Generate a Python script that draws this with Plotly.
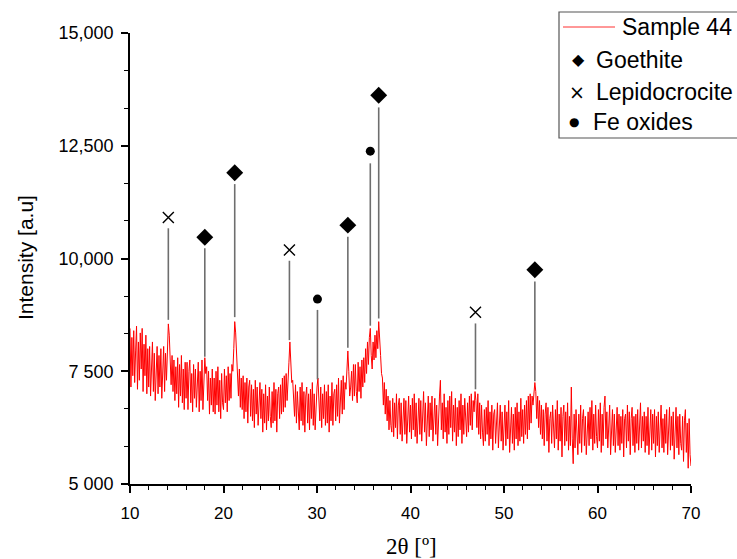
import plotly.graph_objects as go

# ---------------- data ----------------
two_theta_start = 10.0
two_theta_step = 0.1
intensity = [
    8450, 7150, 8250, 7400, 8400, 7250, 7950, 8500, 7100, 8150,   # 10
    7300, 8350, 7550, 8450, 7050, 8100, 7400, 8300, 7000, 8000,   # 11
    7150, 8050, 6950, 7850, 8150, 7050, 7900, 6850, 7750, 8050,   # 12
    7000, 7850, 7150, 8000, 6900, 7700, 8050, 7050, 7900, 7300,   # 13
    7950, 8550, 8300, 7750, 7200, 7850, 7050, 7750, 6850, 7600,   # 14
    7000, 7800, 6700, 7650, 6950, 7850, 6800, 7550, 6650, 7700,   # 15
    6900, 7700, 6650, 7500, 7750, 6800, 7450, 6600, 7650, 6900,   # 16
    7550, 6700, 7400, 7700, 6600, 7500, 6850, 7750, 6650, 7450,   # 17
    7800, 7450, 7600, 6850, 7500, 6550, 7350, 6750, 7550, 6600,   # 18
    7350, 6550, 7500, 6750, 7600, 6600, 7300, 6450, 7450, 6800,   # 19
    6650, 7550, 6800, 7400, 6600, 7600, 6850, 7450, 6900, 7650,   # 20
    7500, 8000, 8600, 8350, 7800, 7600, 6950, 7550, 6700, 7350,   # 21
    6650, 7400, 6450, 7250, 6600, 7350, 6350, 7150, 7300, 6500,   # 22
    7200, 6400, 7100, 6250, 7300, 6550, 7150, 6300, 7050, 7250,   # 23
    6450, 7100, 6150, 7000, 6350, 7200, 6200, 6950, 6400, 7150,   # 24
    6500, 6250, 7050, 6350, 7250, 6400, 7100, 6150, 7000, 7150,   # 25
    6450, 7200, 6550, 7350, 6600, 7400, 6700, 7450, 6850, 7550,   # 26
    7700, 8150, 7800, 7250, 7300, 6700, 6500, 7200, 6350, 7050,   # 27
    6500, 6200, 7150, 6400, 7250, 6300, 7050, 6150, 6950, 7150,   # 28
    6350, 7000, 6200, 7100, 6450, 7250, 6300, 7000, 6200, 6950,   # 29
    7150, 7350, 6700, 6400, 7150, 6250, 7000, 6450, 7200, 6300,   # 30
    7050, 6350, 7200, 6150, 6950, 6400, 7250, 6300, 7000, 7100,   # 31
    6400, 7200, 6500, 7350, 6350, 7100, 7300, 6550, 7400, 6650,   # 32
    7250, 7100, 7650, 7950, 7500, 6950, 7150, 7500, 6850, 7650,   # 33
    6950, 7650, 7050, 6800, 7700, 7050, 7600, 6900, 7750, 7150,   # 34
    7800, 7250, 8000, 7450, 8150, 7650, 8250, 8450, 7850, 7550,   # 35
    8150, 7750, 8300, 7800, 8400, 8000, 8600, 8300, 7850, 7450,   # 36
    7350, 6750, 7250, 6550, 7100, 6400, 6950, 6200, 6850, 6300,   # 37
    6150, 6900, 6050, 6800, 6250, 7000, 6000, 6750, 6900, 6100,   # 38
    6800, 5950, 6700, 6900, 6100, 6850, 5900, 6650, 6950, 6150,   # 39
    6750, 6000, 6900, 6200, 7000, 6050, 6800, 5900, 6700, 6900,   # 40
    6100, 6850, 5950, 6750, 7050, 6150, 6800, 5850, 6650, 6950,   # 41
    6050, 6800, 6200, 6950, 5950, 6700, 6900, 6100, 6750, 5850,   # 42
    6650, 6950, 7300, 6200, 6800, 6000, 7000, 6150, 6700, 5900,   # 43
    6850, 6100, 6950, 6250, 7050, 5950, 6750, 6150, 6900, 5850,   # 44
    6700, 6050, 6850, 6200, 7000, 5900, 6750, 6100, 6900, 6250,   # 45
    6050, 6800, 6150, 6950, 6300, 7000, 6200, 6850, 6600, 7050,   # 46
    6850, 6250, 7000, 6100, 6800, 6000, 6750, 6150, 5850, 6650,   # 47
    5950, 6700, 6100, 6850, 5850, 6600, 6000, 6750, 5750, 6550,   # 48
    6650, 5900, 6550, 6800, 5800, 6500, 6750, 5950, 6600, 5750,   # 49
    6500, 6750, 5850, 6600, 6000, 6850, 5700, 6450, 6700, 5900,   # 50
    6550, 5750, 6700, 6000, 6800, 5850, 6600, 5950, 6900, 6050,   # 51
    6650, 5900, 6750, 6100, 6850, 6000, 6950, 6200, 7000, 6350,   # 52
    6950, 6750, 7150, 7250, 7050, 6450, 6950, 6250, 6850, 6100,   # 53
    6750, 6000, 6650, 5850, 6550, 6800, 5950, 6700, 5700, 6450,   # 54
    6600, 5900, 6750, 6050, 5800, 6650, 6000, 6850, 5750, 6550,   # 55
    5950, 6700, 5600, 6500, 6750, 5850, 6600, 5950, 6800, 5750,   # 56
    6500, 5850, 7150, 6000, 5450, 6550, 5800, 6650, 5950, 5650,   # 57
    6550, 5900, 6750, 5700, 6450, 6650, 5850, 6500, 5650, 6400,   # 58
    6600, 5850, 6700, 6000, 6850, 5750, 6550, 5900, 6750, 6050,   # 59
    5800, 6650, 5950, 6800, 5700, 6550, 5850, 6700, 6950, 6000,   # 60
    6600, 5800, 6500, 6750, 5650, 6450, 6650, 5850, 6550, 5700,   # 61
    6400, 6700, 5850, 6550, 5750, 6500, 5900, 6650, 5600, 6450,   # 62
    6550, 5800, 6750, 5950, 6600, 5650, 6450, 6700, 5850, 6500,   # 63
    5700, 6550, 5900, 6650, 5750, 6450, 6800, 5800, 6500, 5950,   # 64
    6600, 5700, 6500, 5850, 6700, 5650, 6400, 6650, 5750, 6550,   # 65
    5900, 6650, 5600, 6500, 5850, 6600, 5700, 6450, 6750, 5800,   # 66
    6450, 5700, 6550, 5900, 6650, 5650, 6400, 6700, 5750, 6500,   # 67
    5850, 6600, 5550, 6450, 6700, 5800, 6500, 5650, 6550, 5900,   # 68
    5750, 6500, 5500, 6400, 6650, 5700, 6350, 5350, 6450, 5650,   # 69
    5400,                                                         # 70
]
two_theta = [round(two_theta_start + i * two_theta_step, 2) for i in range(len(intensity))]

# phase markers: position, marker height, drop-line top, drop-line bottom
goethite_x = [18.0, 21.2, 33.3, 36.6, 53.3]
goethite_y = [10470, 11900, 10740, 13620, 9750]
goethite_line_top = [10230, 11650, 10480, 13350, 9490]
goethite_line_bottom = [7820, 8700, 8020, 8670, 7280]

lepido_x = [14.1, 27.05, 46.95]
lepido_y = [10910, 10190, 8810]
lepido_line_top = [10670, 9950, 8560]
lepido_line_bottom = [8640, 8190, 7100]

feox_x = [30.05, 35.7]
feox_y = [9100, 12380]
feox_line_top = [8860, 12110]
feox_line_bottom = [7320, 8510]

y_tickvals = [5000, 7500, 10000, 12500, 15000]
y_ticktext = ["5 000", "7 500", "10,000", "12,500", "15,000"]

legend_labels = ["Sample 44", "Goethite", "Lepidocrocite", "Fe oxides"]

# ---------------- layout geometry ----------------
W, H = 737, 559
ML, MR, MT, MB = 130, 46, 33, 75
PW, PH = W - ML - MR, H - MT - MB


def px_x(p):
    return (p - ML) / PW


def px_y(p):
    return (H - MB - p) / PH


# ---------------- figure ----------------
fig = go.Figure()

fig.add_trace(go.Scatter(
    x=two_theta, y=intensity, mode="lines", name=legend_labels[0],
    line=dict(color="#ff0000", width=1), showlegend=False,
))

# drop lines
lx, ly = [], []
for xs, tops, bots in [(goethite_x, goethite_line_top, goethite_line_bottom),
                       (lepido_x, lepido_line_top, lepido_line_bottom),
                       (feox_x, feox_line_top, feox_line_bottom)]:
    for xv, t, b in zip(xs, tops, bots):
        lx += [xv, xv, None]
        ly += [b, t, None]
fig.add_trace(go.Scatter(x=lx, y=ly, mode="lines", showlegend=False,
                         line=dict(color="#6e6e6e", width=1.6), hoverinfo="skip"))

fig.add_trace(go.Scatter(
    x=goethite_x, y=goethite_y, mode="markers", name=legend_labels[1], showlegend=False,
    marker=dict(symbol="diamond", size=13, color="black"),
))
fig.add_trace(go.Scatter(
    x=lepido_x, y=lepido_y, mode="markers", name=legend_labels[2], showlegend=False,
    marker=dict(symbol="x-thin-open", size=11, color="black",
                line=dict(color="black", width=1.4)),
))
fig.add_trace(go.Scatter(
    x=feox_x, y=feox_y, mode="markers", name=legend_labels[3], showlegend=False,
    marker=dict(symbol="circle", size=9, color="black"),
))

# ---------------- hand-built legend (box partly beyond the right edge) ----------------
shapes = [
    dict(type="rect", xref="paper", yref="paper",
         x0=px_x(559), x1=px_x(745), y0=px_y(12), y1=px_y(138),
         line=dict(color="#555555", width=1.2), fillcolor="white", layer="above"),
    dict(type="line", xref="paper", yref="paper",
         x0=px_x(563), x1=px_x(615), y0=px_y(27), y1=px_y(27),
         line=dict(color="#ff3030", width=1), layer="above"),
]
leg_font = dict(family="Liberation Sans, Arial, sans-serif", size=23, color="black")
sym_font = dict(family="DejaVu Sans, sans-serif", color="black")
annotations = [
    dict(xref="paper", yref="paper", x=px_x(620), y=px_y(27), text=legend_labels[0],
         showarrow=False, xanchor="left", yanchor="middle", font=leg_font),
    dict(xref="paper", yref="paper", x=px_x(594), y=px_y(60), text=legend_labels[1],
         showarrow=False, xanchor="left", yanchor="middle", font=leg_font),
    dict(xref="paper", yref="paper", x=px_x(594), y=px_y(92), text=legend_labels[2],
         showarrow=False, xanchor="left", yanchor="middle", font=leg_font),
    dict(xref="paper", yref="paper", x=px_x(591), y=px_y(122), text=legend_labels[3],
         showarrow=False, xanchor="left", yanchor="middle", font=leg_font),
    dict(xref="paper", yref="paper", x=px_x(578), y=px_y(60), text="◆",
         showarrow=False, xanchor="center", yanchor="middle", font=dict(size=16, **sym_font)),
    dict(xref="paper", yref="paper", x=px_x(577), y=px_y(92), text="×",
         showarrow=False, xanchor="center", yanchor="middle", font=dict(size=19, **sym_font)),
    dict(xref="paper", yref="paper", x=px_x(574), y=px_y(122), text="●",
         showarrow=False, xanchor="center", yanchor="middle", font=dict(size=12, **sym_font)),
    # axis titles placed explicitly
    dict(xref="paper", yref="paper", x=px_x(411), y=px_y(546), text="2θ [º]",
         showarrow=False, xanchor="center", yanchor="middle",
         font=dict(family="Liberation Serif, Times New Roman, serif", size=23, color="black")),
    dict(xref="paper", yref="paper", x=px_x(25), y=px_y(258), text="Intensity [a.u]",
         showarrow=False, xanchor="center", yanchor="middle", textangle=-90,
         font=dict(family="Liberation Sans, Arial, sans-serif", size=21, color="black")),
]

fig.update_layout(
    width=W, height=H,
    margin=dict(l=ML, r=MR, t=MT, b=MB),
    paper_bgcolor="white", plot_bgcolor="white",
    font=dict(family="Liberation Sans, Arial, sans-serif", size=18, color="black"),
    showlegend=False,
    shapes=shapes, annotations=annotations,
    xaxis=dict(
        range=[10, 70], dtick=10, tick0=10, automargin=False,
        showline=True, linecolor="black", linewidth=1.6,
        ticks="outside", ticklen=7, tickwidth=1.5, tickcolor="black",
        minor=dict(dtick=2, ticks="outside", ticklen=4, tickwidth=1.2, tickcolor="black"),
        showgrid=False, zeroline=False, mirror=False,
        ticklabelstandoff=6,
        tickfont=dict(family="Liberation Sans, Arial, sans-serif", size=17),
    ),
    yaxis=dict(
        range=[5000, 15000], automargin=False,
        tickvals=y_tickvals, ticktext=y_ticktext,
        showline=True, linecolor="black", linewidth=1.6,
        ticks="outside", ticklen=7, tickwidth=1.5, tickcolor="black",
        minor=dict(tick0=5000, dtick=2500 / 3, ticks="outside", ticklen=4, tickwidth=1.2, tickcolor="black"),
        showgrid=False, zeroline=False, mirror=False,
        ticklabelstandoff=4,
        tickfont=dict(family="Liberation Sans, Arial, sans-serif", size=18),
    ),
)

fig.write_html("out.html")
